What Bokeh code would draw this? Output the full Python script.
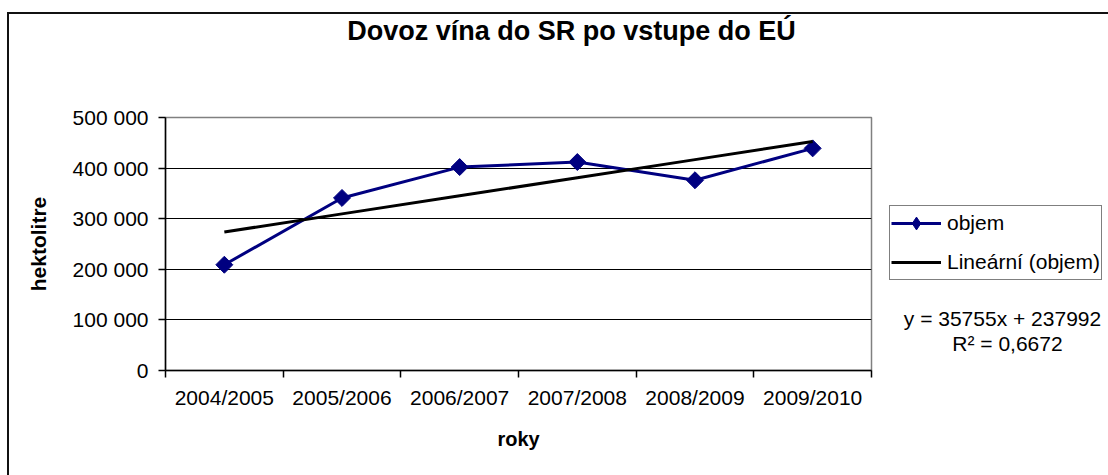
import numpy as np
from bokeh.plotting import figure
from bokeh.layouts import row, column
from bokeh.models import (Range1d, FixedTicker, Label, Legend, LegendItem)
from bokeh.embed import file_html
from bokeh.resources import INLINE

# ---- data ----
categories = ["2004/2005", "2005/2006", "2006/2007", "2007/2008", "2008/2009", "2009/2010"]
objem = [209000, 341000, 402000, 412000, 376000, 439000]
trend_slope = 35755
trend_intercept = 237992
r_squared = "0,6672"
ytick_values = [0, 100000, 200000, 300000, 400000, 500000]
ytick_labels = ["0", "100 000", "200 000", "300 000", "400 000", "500 000"]

title_text = "Dovoz vína do SR po vstupe do EÚ"
ylabel = "hektolitre"
xlabel = "roky"
series_name = "objem"
trend_name = "Lineární (objem)"

FONT = "Liberation Sans"
navy = "#000080"

x = np.arange(1, len(categories) + 1)
trend = trend_slope * x + trend_intercept


def blank(w, h, xr, yr):
    f = figure(width=w, height=h, output_backend="svg", toolbar_location=None,
               x_range=xr, y_range=yr,
               x_axis_location=None, y_axis_location=None,
               min_border=0, min_border_left=0, min_border_right=0,
               min_border_top=0, min_border_bottom=0)
    f.grid.visible = False
    f.outline_line_color = None
    f.background_fill_color = "white"
    f.border_fill_color = "white"
    return f


# ---- title strip ----
t = blank(1099, 60, Range1d(0, 1099), Range1d(60, 0))
t.add_layout(Label(x=562, y=16.5, text=title_text, text_font=FONT, text_font_size="27px",
                   text_font_style="bold", text_align="center", text_baseline="middle",
                   text_color="black"))

# ---- main chart ----
p = figure(width=864, height=401, output_backend="svg", toolbar_location=None,
           x_range=Range1d(0.5, len(categories) + 0.5), y_range=Range1d(0, 500000),
           min_border_left=156, min_border_right=2, min_border_top=43, min_border_bottom=105)
p.background_fill_color = "white"
p.border_fill_color = "white"
p.outline_line_color = "#808080"
p.outline_line_width = 1.5

p.xaxis.ticker = FixedTicker(ticks=list(x), minor_ticks=list(np.arange(len(categories) + 1) + 0.5))
p.xaxis.major_label_overrides = {int(i): c for i, c in zip(x, categories)}
p.xaxis.major_tick_line_color = None
p.xaxis.major_tick_out = 7
p.xaxis.major_tick_in = 0
p.xaxis.minor_tick_line_color = "black"
p.xaxis.minor_tick_out = 7
p.xaxis.minor_tick_in = 0
p.xaxis.minor_tick_line_width = 1.5
p.xaxis.axis_line_color = "black"
p.xaxis.axis_line_width = 1.5
p.xaxis.major_label_text_font = FONT
p.xaxis.major_label_text_font_size = "21px"
p.xaxis.major_label_text_color = "black"
p.xaxis.major_label_standoff = 8
p.xaxis.axis_label = xlabel
p.xaxis.axis_label_text_font = FONT
p.xaxis.axis_label_text_font_size = "20px"
p.xaxis.axis_label_text_font_style = "bold"
p.xaxis.axis_label_text_color = "black"
p.xaxis.axis_label_standoff = 16

p.yaxis.ticker = FixedTicker(ticks=ytick_values)
p.yaxis.major_label_overrides = {v: l for v, l in zip(ytick_values, ytick_labels)}
p.yaxis.major_tick_line_color = "black"
p.yaxis.major_tick_line_width = 1.5
p.yaxis.major_tick_out = 7
p.yaxis.major_tick_in = 0
p.yaxis.minor_tick_line_color = None
p.yaxis.axis_line_color = "black"
p.yaxis.axis_line_width = 1.5
p.yaxis.major_label_text_font = FONT
p.yaxis.major_label_text_font_size = "21px"
p.yaxis.major_label_text_color = "black"
p.yaxis.major_label_standoff = 10
p.yaxis.axis_label = ylabel
p.yaxis.axis_label_text_font = FONT
p.yaxis.axis_label_text_font_size = "21px"
p.yaxis.axis_label_text_font_style = "bold"
p.yaxis.axis_label_text_color = "black"
p.yaxis.axis_label_standoff = 20

p.xgrid.grid_line_color = None
p.ygrid.ticker = FixedTicker(ticks=ytick_values)
p.ygrid.grid_line_color = "black"
p.ygrid.grid_line_width = 1.2

p.line(x, objem, line_color=navy, line_width=3)
p.scatter(x, objem, marker="square", angle=np.pi / 4, size=12, fill_color=navy, line_color=navy)
p.line(x, trend, line_color="black", line_width=3)

# ---- side panel: legend + trend equation (its frame is aligned with the main frame) ----
q = blank(235, 401, Range1d(873, 1108), Range1d(370, 117))
ql1 = q.line([np.nan], [np.nan], line_color=navy, line_width=3)
qs1 = q.scatter([np.nan], [np.nan], marker="diamond", size=14,
                fill_color=navy, line_color=navy)
ql2 = q.line([np.nan], [np.nan], line_color="black", line_width=3)
legend = Legend(items=[LegendItem(label=series_name, renderers=[ql1, qs1]),
                       LegendItem(label=trend_name, renderers=[ql2])],
                location=(16, 90), orientation="vertical",
                label_text_font=FONT, label_text_font_size="21px", label_text_color="black",
                glyph_width=50, glyph_height=32, label_height=28, label_standoff=6,
                spacing=7, padding=1, margin=0,
                border_line_color="black", border_line_width=1.5,
                background_fill_color="white", background_fill_alpha=1)
q.add_layout(legend, "center")
q.add_layout(Label(x=1002, y=318, text=f"y = {trend_slope}x + {trend_intercept}",
                   text_font=FONT, text_font_size="21px", text_align="center",
                   text_baseline="middle", text_color="black"))
q.add_layout(Label(x=1007, y=343, text=f"R² = {r_squared}",
                   text_font=FONT, text_font_size="21px", text_align="center",
                   text_baseline="middle", text_color="black"))

layout = column(t, row(p, q, spacing=0), spacing=0)
layout.styles = {"margin-left": "7px", "margin-top": "12px",
                 "border-left": "2px solid #111", "border-top": "2px solid #111"}

open("out.html", "w").write(file_html(layout, INLINE))
